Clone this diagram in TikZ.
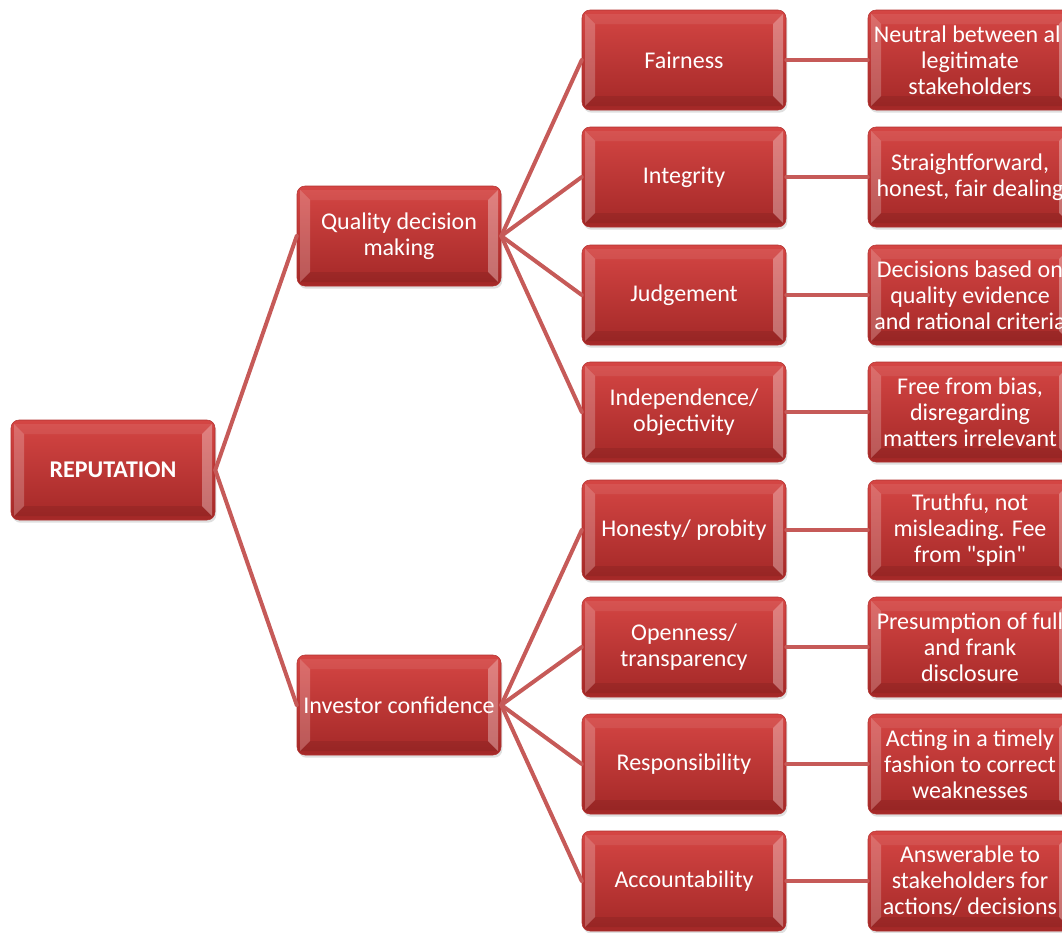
\documentclass[tikz,border=0pt]{standalone}
\usepackage{fontspec}
\setmainfont{Carlito}
\usetikzlibrary{shadows}
\definecolor{boxtop}{RGB}{213,70,68}
\definecolor{boxbot}{RGB}{163,40,39}
\definecolor{boxedge}{RGB}{178,50,48}
\definecolor{linkred}{RGB}{198,90,88}
\newcommand\dquote{\XeTeXglyph\XeTeXcharglyph"22\relax}
\begin{document}
\begin{tikzpicture}[line cap=round,line join=round,x=0.75pt,y=-0.75pt,
  box/.style={rounded corners=6pt,minimum width=153pt,minimum height=75pt,inner sep=0pt,
    align=center,text=white,font=\fontsize{18}{19.5}\selectfont,
    top color=boxtop,bottom color=boxbot,draw=boxedge,line width=0.4pt,
    drop shadow={opacity=.25,shadow xshift=1pt,shadow yshift=-2pt},
    path picture={
      \fill[sharp corners,white,opacity=.22] (path picture bounding box.north west) ++(3,4) -- ++(10,10) -- ++(0,72) -- ++(-10,10) -- cycle;
      \fill[sharp corners,white,opacity=.32] (path picture bounding box.north east) ++(-3,4) -- ++(-10,10) -- ++(0,72) -- ++(10,10) -- cycle;
      \fill[sharp corners,white,opacity=.08] (path picture bounding box.north west) ++(3,4) -- ++(10,10) -- ++(178,0) -- ++(10,-10) -- cycle;
      \fill[sharp corners,black,opacity=.08] (path picture bounding box.south west) ++(3,-4) -- ++(10,-10) -- ++(178,0) -- ++(10,10) -- cycle;
    }},
  link/.style={draw=linkred,line width=3pt}]
\useasboundingbox (0,0) rectangle (1062,932);
\clip (0,0) rectangle (1062,932);
\node[box] (rep) at (113,470) {\textbf{REPUTATION}};
\node[box] (quality) at (399,236) {Quality decision\\making};
\node[box] (investor) at (399,705) {Investor confidence};
\node[box] (fair) at (684,60) {Fairness};
\node[box] (integ) at (684,177) {Integrity};
\node[box] (judge) at (684,295) {Judgement};
\node[box] (indep) at (684,412) {Independence/\\objectivity};
\node[box] (honest) at (684,530) {Honesty/ probity};
\node[box] (open) at (684,647) {Openness/\\transparency};
\node[box] (resp) at (684,764) {Responsibility};
\node[box] (account) at (684,881) {Accountability};
\node[box] (fairtxt) at (970,60) {Neutral between all\\legitimate\\stakeholders};
\node[box] (integtxt) at (970,177) {Straightforward,\\honest, fair dealing};
\node[box] (judgetxt) at (970,295) {Decisions based on\\quality evidence\\and rational criteria};
\node[box] (indeptxt) at (970,412) {Free from bias,\\disregarding\\matters irrelevant};
\node[box] (honesttxt) at (970,530) {Truthfu, not\\misleading. Fee\\from \dquote spin\dquote};
\node[box] (opentxt) at (970,647) {Presumption of full\\and frank\\disclosure};
\node[box] (resptxt) at (970,764) {Acting in a timely\\fashion to correct\\weaknesses};
\node[box] (accounttxt) at (970,881) {Answerable to\\stakeholders for\\actions/ decisions};
\draw[link] (rep.east) -- (quality.west);
\draw[link] (rep.east) -- (investor.west);
\draw[link] (quality.east) -- (fair.west);
\draw[link] (quality.east) -- (integ.west);
\draw[link] (quality.east) -- (judge.west);
\draw[link] (quality.east) -- (indep.west);
\draw[link] (investor.east) -- (honest.west);
\draw[link] (investor.east) -- (open.west);
\draw[link] (investor.east) -- (resp.west);
\draw[link] (investor.east) -- (account.west);
\draw[link] (fair.east) -- (fairtxt.west);
\draw[link] (integ.east) -- (integtxt.west);
\draw[link] (judge.east) -- (judgetxt.west);
\draw[link] (indep.east) -- (indeptxt.west);
\draw[link] (honest.east) -- (honesttxt.west);
\draw[link] (open.east) -- (opentxt.west);
\draw[link] (resp.east) -- (resptxt.west);
\draw[link] (account.east) -- (accounttxt.west);
\end{tikzpicture}
\end{document}
